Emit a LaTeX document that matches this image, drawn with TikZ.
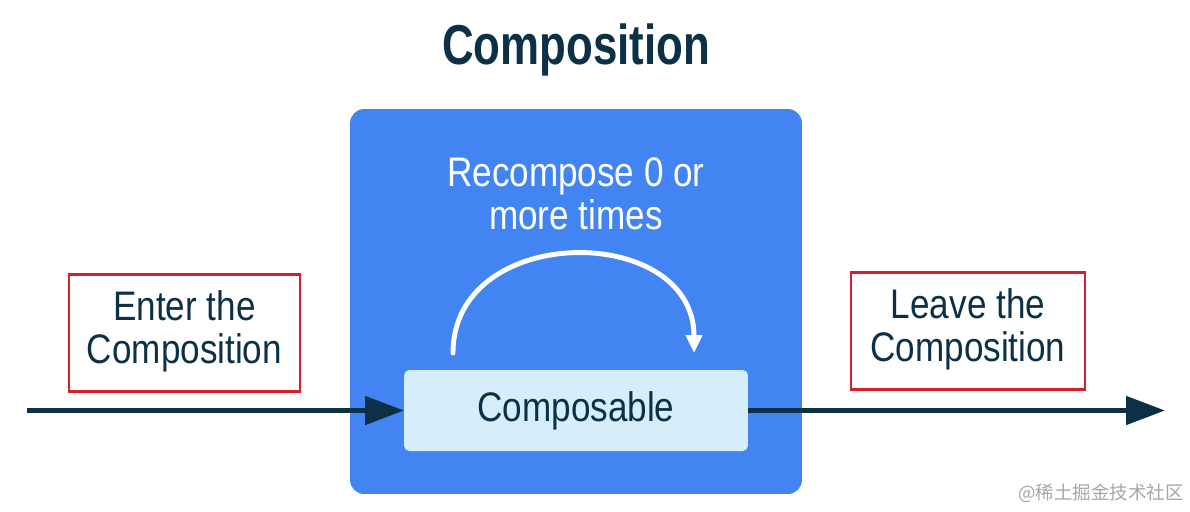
\documentclass[tikz,border=0pt]{standalone}
\usepackage{fontspec}
\setmainfont{Liberation Sans}[FakeStretch=0.85,BoldFeatures={FakeStretch=0.78}]
\newfontfamily\cjk{Noto Sans CJK SC}
\usetikzlibrary{arrows.meta}

\definecolor{navy}{HTML}{0C3147}
\definecolor{gblue}{HTML}{4384F3}
\definecolor{paleblue}{HTML}{D6EEFC}
\definecolor{boxred}{HTML}{D4202C}

\newcommand{\twolines}[2]{\raisebox{-2pt}{\begin{tabular}{@{}c@{}}#1\\#2\end{tabular}}}

\begin{document}
\begin{tikzpicture}[
  x=0.02cm, y=-0.02cm,
  every node/.style={inner sep=0pt, outer sep=0pt},
  label text/.style={
    text=navy,
    align=center,
    font=\fontsize{23.5pt}{24.5pt}\selectfont
  },
  stage/.style={
    draw=boxred,
    line width=1.6pt,
    minimum height=2.34cm,
    label text
  },
  flow/.style={-{Triangle[length=7.8mm,width=5.6mm]},navy,line width=2.8pt}
]
  \useasboundingbox (0,0) rectangle (1190,511);

  \node[font=\fontsize{32pt}{34pt}\selectfont\bfseries,text=navy] (title) at (576,50) {Composition};

  \node[fill=gblue,rounded corners=8pt,minimum width=9.04cm,minimum height=7.7cm] (frame) at (576,301.5) {};
  \node[label text,text=white] (recompose) at (576,194) {Recompose 0 or\\more times};
  \node[label text,fill=paleblue,rounded corners=3pt,minimum width=6.88cm,minimum height=1.62cm] (composable) at (576,410.5) {Composable};

  \node[stage,minimum width=4.62cm] (enter) at (184.5,333) {\twolines{Enter the}{Composition}};
  \node[stage,minimum width=4.68cm] (leave) at (968,331) {\twolines{Leave the}{Composition}};

  \coordinate (start) at (27,410.5);
  \coordinate (finish) at (1165,410.5);
  \coordinate (loopout) at (453,353);
  \coordinate (loopin) at (694,353);

  \path[flow]
    (start) edge (composable.west)
    (composable.east) edge (finish);

  \draw[white,line width=2.8pt,line cap=round,-{Triangle[length=3.6mm,width=3.2mm]}]
    (loopout) .. controls (453,222) and (694,222) .. (loopin);

  \node[font=\cjk\fontsize{10.5pt}{12pt}\selectfont,text=black!35] (mark) at (1101,493) {@稀土掘金技术社区};
\end{tikzpicture}
\end{document}
